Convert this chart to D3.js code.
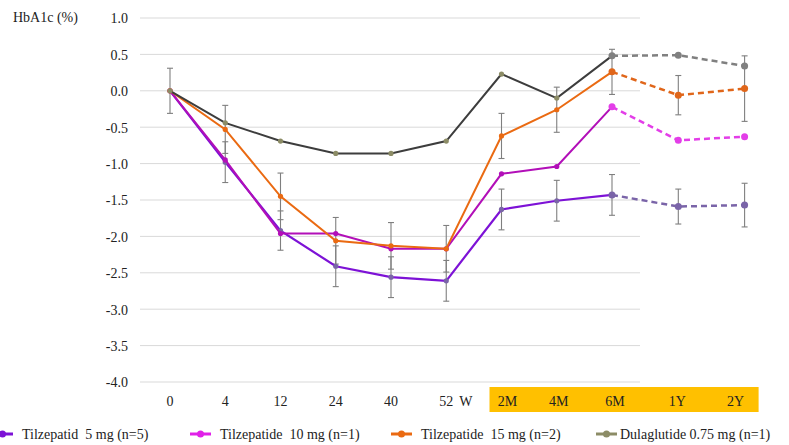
<!DOCTYPE html>
<html>
<head>
<meta charset="utf-8">
<script src="https://cdn.jsdelivr.net/npm/d3@7"></script>
<style>
  body { margin: 0; background: #fff; }
</style>
</head>
<body>
<div id="container"></div>
<script>
// DATA
const categories = ['0', '4', '12', '24', '40', '52', '2M', '4M', '6M', '1Y', '2Y'];
const slots = [0, 1, 2, 3, 4, 5, 6, 7, 8, 9.2, 10.4]; // 1Y / 2Y sit a bit wider apart
const labelNudge = [0, 0, 0, 0, 0, 0, 6, 2, 3, -1, -9];
const yTicks = [1.0, 0.5, 0.0, -0.5, -1.0, -1.5, -2.0, -2.5, -3.0, -3.5, -4.0];

const tirz5 = [0, -0.98, -1.92, -2.41, -2.56, -2.61, -1.63, -1.51, -1.43, -1.59, -1.57];
const tirz5Err = [0.31, 0.28, 0.27, 0.28, 0.28, 0.28, 0.28, 0.28, 0.28, 0.24, 0.30];
const tirz10 = [0, -0.95, -1.96, -1.96, -2.17, -2.17, -1.14, -1.04, -0.22, -0.68, -0.63];
const tirz15 = [0, -0.53, -1.45, -2.06, -2.13, -2.17, -0.62, -0.26, 0.26, -0.06, 0.03];
const tirz15Err = [null, 0.33, 0.32, 0.32, 0.32, 0.32, 0.31, 0.31, 0.31, 0.27, 0.45];
const dula = [0, -0.44, -0.69, -0.86, -0.86, -0.69, 0.23, -0.10, 0.48, 0.49, 0.34];

const seriesNames = ['Tilzepatid  5 mg (n=5)', 'Tilzepatide  10 mg (n=1)', 'Tilzepatide  15 mg (n=2)', 'Dulaglutide 0.75 mg (n=1)'];

const w = 789, h = 445;
const solidEnd = 8; // index of 6M, dashed afterwards
const font = '"Liberation Serif", serif';

const series = [
  {name: seriesNames[0], values: tirz5, err: tirz5Err, line: '#7d12d6', dash: '#7a64a8', dot: '#7a64a8', dot2: '#7a64a8', lw: 2.2},
  {name: seriesNames[1], values: tirz10, err: null, line: '#b20fb8', dash: '#e33ee8', dot: '#b20fb8', dot2: '#e33ee8', lw: 2},
  {name: seriesNames[2], values: tirz15, err: tirz15Err, line: '#ea6a12', dash: '#e0661a', dot: '#ea6a12', dot2: '#e0661a', lw: 2},
  {name: seriesNames[3], values: dula, err: null, line: '#3d3d3d', dash: '#808080', dot: '#8c8c66', dot2: '#808080', lw: 2}
];

// CHART
const chart = d3.select('#container')
                .append('svg')
                .attr('width', w)
                .attr('height', h);

const x = d3.scaleLinear().domain([0, 8]).range([170, 612]);
const y = d3.scaleLinear().domain([-4, 1]).range([382, 18]);

// gridlines
chart.append('g')
     .selectAll('line')
     .data(yTicks).enter()
     .append('line')
     .attr('x1', 140)
     .attr('x2', 640)
     .attr('y1', d => y(d))
     .attr('y2', d => y(d))
     .attr('stroke', '#d9d9d9')
     .attr('stroke-width', 1);

// y axis labels
const yAxis = d3.axisLeft(y)
                .tickValues(yTicks)
                .tickFormat(d => d3.format('.1f')(d).replace('−', '-'))
                .tickSize(0)
                .tickPadding(0);
const yg = chart.append('g')
     .attr('transform', 'translate(128,0)')
     .call(yAxis);
yg.select('.domain').remove();
yg.selectAll('text')
  .attr('fill', '#222')
  .attr('dy', '0.35em');

chart.append('text')
     .attr('x', 13)
     .attr('y', 22)
     .text('HbA1c (%)');

// orange band behind follow-up labels
chart.append('rect')
     .attr('x', x(slots[6]) - 12)
     .attr('y', 387)
     .attr('width', x(slots[10]) + 14 - (x(slots[6]) - 12))
     .attr('height', 25)
     .attr('fill', '#ffc000');

// x labels
chart.append('g')
     .selectAll('text')
     .data(categories).enter()
     .append('text')
     .attr('x', (d, i) => x(slots[i]) + labelNudge[i])
     .attr('y', 406)
     .attr('text-anchor', 'middle')
     .text(d => d);
chart.append('text')
     .attr('x', x(slots[5]) + 13)
     .attr('y', 406)
     .text('W');

// ERROR BARS
const errGroup = chart.append('g');
series.forEach(s => {
  if (!s.err) return;
  s.err.forEach((e, i) => {
    if (e === null) return;
    const cx = x(slots[i]);
    const v = s.values[i];
    errGroup.append('line')
            .attr('x1', cx).attr('x2', cx)
            .attr('y1', y(v + e)).attr('y2', y(v - e))
            .attr('stroke', '#7f7f7f').attr('stroke-width', 1.1);
    [v + e, v - e].forEach(c => {
      errGroup.append('line')
              .attr('x1', cx - 3).attr('x2', cx + 3)
              .attr('y1', y(c)).attr('y2', y(c))
              .attr('stroke', '#7f7f7f').attr('stroke-width', 1.1);
    });
  });
});

// LINES
const line = d3.line()
               .x(d => x(d.s))
               .y(d => y(d.v));

series.forEach(s => {
  const pts = s.values.map((v, i) => ({s: slots[i], v: v, i: i}));
  const solid = pts.filter(p => p.i <= solidEnd);
  const dashed = pts.filter(p => p.i >= solidEnd);

  chart.append('path')
       .datum(dashed)
       .attr('d', line)
       .attr('fill', 'none')
       .attr('stroke', s.dash)
       .attr('stroke-width', 2.5)
       .attr('stroke-dasharray', '6,4');

  chart.append('path')
       .datum(solid)
       .attr('d', line)
       .attr('fill', 'none')
       .attr('stroke', s.line)
       .attr('stroke-width', s.lw);

  chart.append('g')
       .selectAll('circle')
       .data(pts).enter()
       .append('circle')
       .attr('cx', d => x(d.s))
       .attr('cy', d => y(d.v))
       .attr('r', d => d.i >= solidEnd ? 3.5 : 2.6)
       .attr('fill', d => d.i >= solidEnd ? s.dot2 : s.dot);
});

// LEGEND
const legendItems = [
  {x: -8, color: '#7d12d6'},
  {x: 190, color: '#e020e8'},
  {x: 391, color: '#ea6a12'},
  {x: 596, color: '#8c8c66'}
];
const legend = chart.append('g');
legendItems.forEach((d, i) => {
  legend.append('line')
        .attr('x1', d.x).attr('x2', d.x + 21)
        .attr('y1', 434).attr('y2', 434)
        .attr('stroke', d.color).attr('stroke-width', 3);
  legend.append('circle')
        .attr('cx', d.x + 10.5).attr('cy', 434)
        .attr('r', 3.5)
        .attr('fill', d.color);
  legend.append('text')
        .attr('x', d.x + (i === 3 ? 24 : 30))
        .attr('y', 439)
        .style('white-space', 'pre')
        .text(seriesNames[i]);
});

// all texts: serif, same size
chart.selectAll('text')
     .style('font-family', font)
     .style('font-size', '14px')
     .style('fill', '#222');
</script>
</body>
</html>
